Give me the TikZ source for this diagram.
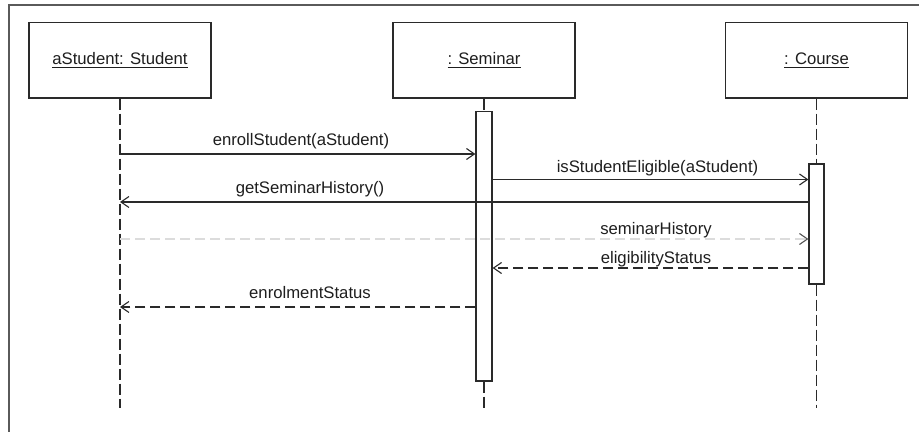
\documentclass[tikz,border=0pt]{standalone}
\usepackage{fontspec}
\setmainfont{Liberation Sans}
\usetikzlibrary{arrows.meta}
\definecolor{ink}{HTML}{2A2A2A}
\definecolor{txt}{HTML}{1E1E1E}
\definecolor{framegray}{HTML}{5A5A5A}
\definecolor{faint}{HTML}{DCDCDC}
\tikzset{
  objbox/.style={draw=ink, line width=0.6pt, fill=white, minimum width=91pt,
    minimum height=37.7pt, inner sep=0pt, text=txt,
    font=\fontsize{8.35pt}{10pt}\selectfont},
  actbox/.style={draw=ink, line width=0.6pt, fill=white, inner sep=0pt},
  lifeline/.style={draw=ink, line width=0.6pt, dash pattern=on 5.5pt off 2pt},
  msg/.style={draw=ink, line width=0.55pt, -{Straight Barb[length=4pt,width=5.5pt]}},
  reply/.style={msg, dash pattern=on 5pt off 2.5pt},
  faintreply/.style={draw=faint, line width=0.55pt, dash pattern=on 5pt off 2.5pt,
    -{Straight Barb[length=4pt,width=5.5pt,color=ink!80]}},
  lbl/.style={inner sep=0pt, text=txt, font=\fontsize{8.35pt}{10pt}\selectfont},
  frameline/.style={draw=framegray, line width=1pt}
}
\begin{document}
\begin{tikzpicture}[x=0.5pt,y=-0.5pt]
  \useasboundingbox (0,0) rectangle (919,432);
  \fill[white] (0,0) rectangle (919,432);

  % diagram frame (open on the right and at the bottom)
  \draw[frameline] (9,432) -- (9,5) -- (919,5);

  % participants
  \node[objbox] (student) at (120,60.3) {\underline{aStudent: Student}};
  \node[objbox] (seminar) at (484,60.3) {\underline{: Seminar}};
  \node[objbox] (course)  at (816.5,60.3) {\underline{: Course}};

  % ends of the lifelines
  \coordinate (stuEnd) at (120,408);
  \coordinate (semEnd) at (484,408);
  \coordinate (crsEnd) at (816.5,408);

  % activation bars
  \node[actbox, minimum width=8pt, minimum height=134.65pt] (semAct) at (484,246.35) {};
  \node[actbox, minimum width=7.5pt, minimum height=60pt] (crsAct) at (816.5,224) {};

  % lifelines
  \draw[lifeline] (student.south) -- (stuEnd);
  \draw[lifeline] (seminar.south) -- (semAct.north);
  \draw[lifeline] (semAct.south) -- (semEnd);
  \draw[lifeline] (course.south) -- (crsAct.north);
  \draw[lifeline] (crsAct.south) -- (crsEnd);

  % message levels
  \coordinate (y1) at (0,154);
  \coordinate (y2) at (0,179.5);
  \coordinate (y3) at (0,202);
  \coordinate (y4) at (0,239);
  \coordinate (y5) at (0,268);
  \coordinate (y6) at (0,307);

  % messages
  \draw[msg] (student |- y1) -- (semAct.west |- y1);
  \node[lbl] (l1) at (301,141) {enrollStudent(aStudent)};

  \draw[msg] (semAct.east |- y2) -- (crsAct.west |- y2);
  \node[lbl] (l2) at (657.5,168) {isStudentEligible(aStudent)};

  \draw[msg] (crsAct.west |- y3) -- (student |- y3);
  \node[lbl] (l3) at (310,189.5) {getSeminarHistory()};

  \draw[faintreply] (student |- y4) -- (crsAct.west |- y4);
  \node[lbl] (l4) at (656,230) {seminarHistory};

  \draw[reply] (crsAct.west |- y5) -- (semAct.east |- y5);
  \node[lbl] (l5) at (656,259) {eligibilityStatus};

  \draw[reply] (semAct.west |- y6) -- (student |- y6);
  \node[lbl] (l6) at (310,293) {enrolmentStatus};
\end{tikzpicture}
\end{document}
